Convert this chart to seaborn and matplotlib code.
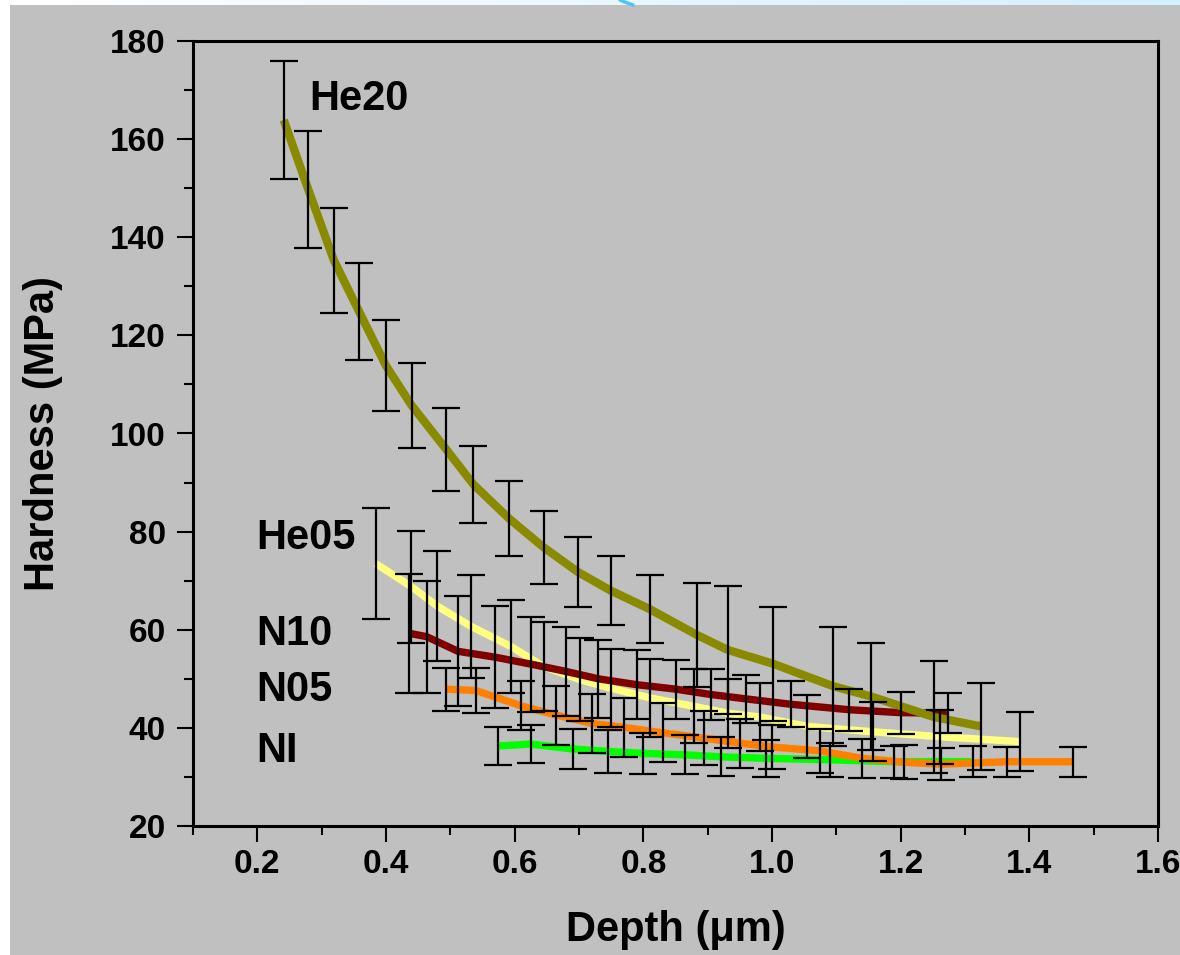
import numpy as np
import pandas as pd
import matplotlib
matplotlib.use("Agg")
import matplotlib.pyplot as plt
import seaborn as sns
from matplotlib.patches import Rectangle
from matplotlib.lines import Line2D

# ---------------- data ----------------
he20_depth = [0.241, 0.279, 0.319, 0.358, 0.400, 0.440, 0.494, 0.536, 0.591, 0.645,
              0.698, 0.749, 0.810, 0.884, 0.931, 1.001, 1.095, 1.154, 1.252, 1.325]
he20_hard = [163.9, 149.8, 135.3, 124.9, 113.8, 105.7, 96.7, 89.6, 82.7, 76.8,
             71.8, 68.0, 64.2, 58.9, 55.9, 53.1, 48.5, 46.4, 42.2, 40.3]
he20_err = [12.0, 11.9, 10.7, 9.9, 9.3, 8.7, 8.4, 7.9, 7.6, 7.4,
            7.2, 7.1, 7.0, 10.6, 13.0, 11.6, 12.1, 11.0, 11.4, 8.9]

he05_depth = [0.384, 0.439, 0.480, 0.532, 0.594, 0.645, 0.702, 0.749, 0.811, 0.878,
              0.931, 0.982, 1.055, 1.157, 1.261, 1.386]
he05_hard = [73.5, 68.8, 64.8, 60.7, 56.6, 52.5, 49.8, 48.1, 46.1, 44.4,
             43.0, 42.2, 40.3, 39.2, 38.2, 37.2]
he05_err = [11.3, 11.4, 11.2, 10.5, 9.5, 9.0, 8.5, 8.0, 8.0, 7.5,
            7.0, 7.0, 6.5, 6.0, 5.5, 6.0]

n10_depth = [0.435, 0.463, 0.512, 0.570, 0.625, 0.680, 0.730, 0.790, 0.850, 0.905,
             0.960, 1.030, 1.120, 1.200, 1.274]
n10_hard = [59.3, 58.6, 55.6, 54.4, 53.0, 51.5, 50.0, 48.8, 47.9, 46.8,
            45.9, 44.8, 43.7, 43.1, 43.0]
n10_err = [12.1, 11.4, 11.2, 10.4, 9.7, 9.0, 8.0, 7.0, 6.0, 5.2,
           4.9, 4.7, 4.3, 4.3, 4.1]

n05_depth = [0.494, 0.540, 0.610, 0.665, 0.720, 0.770, 0.830, 0.895, 0.950, 1.000,
             1.075, 1.140, 1.205, 1.262, 1.365, 1.468]
n05_hard = [47.9, 47.6, 44.5, 42.6, 40.9, 40.1, 39.0, 37.9, 36.9, 36.1,
            35.3, 33.8, 33.0, 32.6, 33.1, 33.1]
n05_err = [4.4, 4.6, 5.0, 6.0, 6.0, 6.0, 6.0, 5.5, 5.0, 4.5,
           4.5, 4.0, 3.5, 3.3, 3.1, 3.1]

ni_depth = [0.574, 0.625, 0.690, 0.745, 0.800, 0.865, 0.920, 0.990, 1.090, 1.190, 1.313]
ni_hard = [36.3, 36.7, 35.7, 35.2, 34.8, 34.5, 34.1, 33.8, 33.5, 33.1, 33.1]
ni_err = [3.8, 3.9, 4.0, 4.4, 4.2, 4.0, 4.0, 3.8, 3.5, 3.3, 3.2]

series_names = ["NI", "N05", "He05", "N10", "He20"]
series_colors = ["#00ff00", "#ff8000", "#ffff80", "#800000", "#8a8a00"]
label_pos_x = [0.198, 0.198, 0.198, 0.198, 0.280]
label_pos_y = [35.3, 47.8, 78.6, 59.2, 168.2]

depths = [ni_depth, n05_depth, he05_depth, n10_depth, he20_depth]
hards = [ni_hard, n05_hard, he05_hard, n10_hard, he20_hard]
errs = [ni_err, n05_err, he05_err, n10_err, he20_err]

df = pd.concat(
    [pd.DataFrame({"Depth": d, "Hardness": h, "Sample": n})
     for d, h, n in zip(depths, hards, series_names)],
    ignore_index=True)

# ---------------- figure ----------------
sns.set_theme(style="white")
plt.rcParams["font.family"] = ["Liberation Sans", "DejaVu Sans"]
plt.rcParams["font.weight"] = "bold"
plt.rcParams["text.color"] = "black"
plt.rcParams["axes.labelcolor"] = "black"

W, H = 1180, 955
fig = plt.figure(figsize=(W / 100, H / 100), dpi=100)
fig.patch.set_facecolor("#ffffff")

# background: light-blue gradient strip on top/left, grey panel
bg = fig.add_axes([0, 0, 1, 1], zorder=-10)
grad = np.linspace(0, 1, 256).reshape(1, -1)
bg.imshow(grad, extent=[0, 1, 0, 1], aspect="auto",
          cmap=matplotlib.colors.LinearSegmentedColormap.from_list(
              "g", ["#ffffff", "#d4efff"]))
bg.add_patch(Rectangle((10 / W, 0), 1, 1 - 5 / H, transform=bg.transAxes,
                       facecolor="#c0c0c0", edgecolor="none"))
bg.add_line(Line2D([620 / W, 626 / W, 633 / W], [1.0, 1 - 2.5 / H, 1 - 5 / H],
                   transform=bg.transAxes, color="#55c3f2", lw=2.5))
bg.set_xlim(0, 1)
bg.set_ylim(0, 1)
bg.axis("off")

ax = fig.add_axes([193 / W, 1 - 826 / H, (1158 - 193) / W, (826 - 41) / H])
ax.set_facecolor("#c0c0c0")

widths = {"He20": 6.0, "He05": 5.3, "N10": 5.3, "N05": 5.3, "NI": 5.3}
palette = dict(zip(series_names, series_colors))
for name in series_names:
    sub = df[df["Sample"] == name]
    sns.lineplot(data=sub, x="Depth", y="Hardness", color=palette[name],
                 lw=widths[name], sort=False, estimator=None, ax=ax,
                 legend=False, zorder=2, solid_capstyle="butt",
                 solid_joinstyle="round")

for d, h, e in zip(depths, hards, errs):
    ax.errorbar(d, h, yerr=e, fmt="none", ecolor="black", elinewidth=1.6,
                capsize=10, capthick=1.6, zorder=3)

for name, lx, ly in zip(series_names, label_pos_x, label_pos_y):
    ax.text(lx, ly, name, fontsize=30, fontweight="bold", ha="left",
            va="center", color="black", zorder=4)

ax.set_xlim(0.1, 1.6)
ax.set_ylim(20, 180)
ax.set_xticks(np.arange(0.2, 1.61, 0.2))
ax.set_xticklabels([f"{v:.1f}" for v in np.arange(0.2, 1.61, 0.2)])
ax.set_xticks(np.arange(0.1, 1.61, 0.2), minor=True)
ax.set_yticks(np.arange(20, 181, 20))
ax.set_yticks(np.arange(30, 180, 20), minor=True)

ax.tick_params(axis="both", which="major", direction="out", length=11.5,
               width=1.5, color="black", labelsize=24, labelcolor="black",
               bottom=True, left=True)
ax.tick_params(axis="both", which="minor", direction="out", length=6.5,
               width=1.5, color="black", bottom=True, left=True)
ax.tick_params(axis="y", which="major", pad=8)
ax.tick_params(axis="x", which="major", pad=5)
for lab in ax.get_xticklabels() + ax.get_yticklabels():
    lab.set_fontweight("bold")

for s in ax.spines.values():
    s.set_visible(True)
    s.set_color("black")
    s.set_linewidth(2.2)

ax.set_xlabel("Depth (μm)", fontsize=30, fontweight="bold", labelpad=22,
              color="black")
ax.set_ylabel("Hardness (MPa)", fontsize=30, fontweight="bold", labelpad=34,
              color="black")

fig.savefig("out.png", dpi=100, facecolor=fig.get_facecolor())
